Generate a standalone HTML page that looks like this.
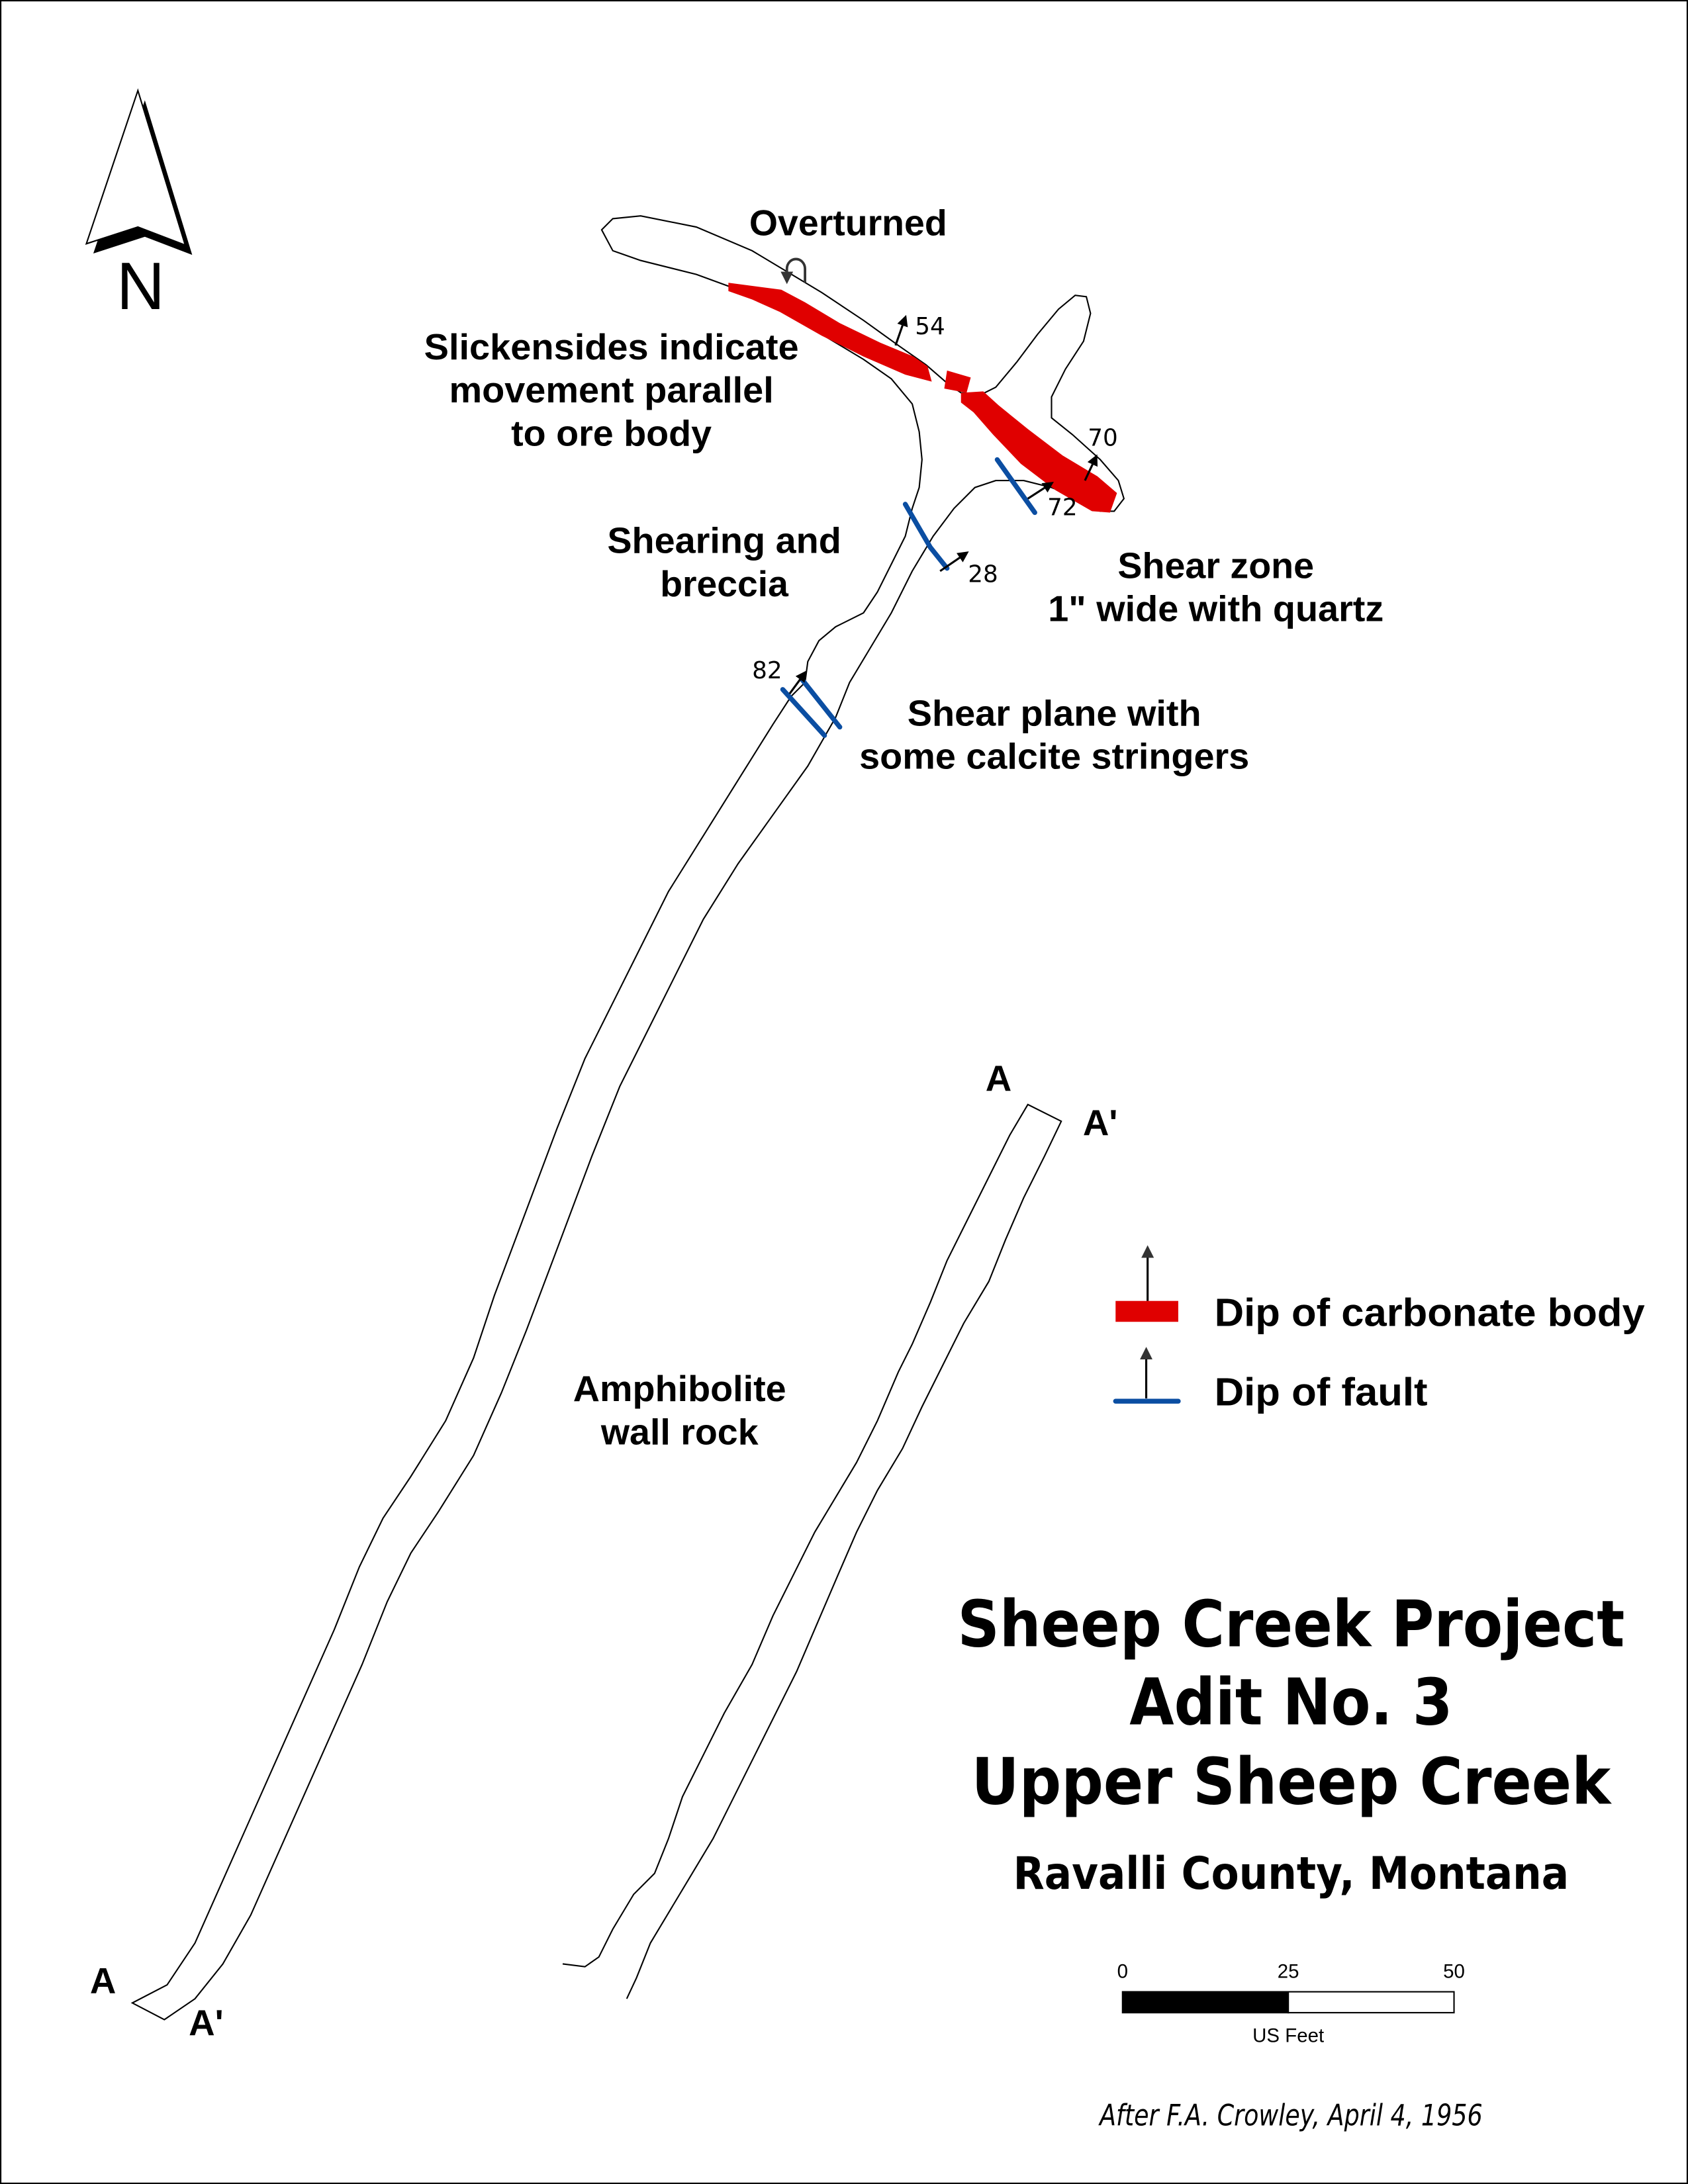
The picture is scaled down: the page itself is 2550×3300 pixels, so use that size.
<!DOCTYPE html>
<html><head><meta charset="utf-8"><style>
html,body{margin:0;padding:0;background:#fff}
svg{display:block}
.l{font-family:"Liberation Sans",Arial,sans-serif;font-weight:bold;font-size:26px;fill:#000}
.n{font-family:"DejaVu Sans","Liberation Sans",sans-serif;font-size:17px;fill:#000}
.t{font-family:"DejaVu Sans","Liberation Sans",sans-serif;font-weight:bold;fill:#000}
</style></head><body>
<svg width="2550" height="3300" viewBox="0 0 1212 1568" preserveAspectRatio="none" xmlns="http://www.w3.org/2000/svg">
<defs><marker id="ar" markerWidth="8" markerHeight="8" refX="6" refY="4" orient="auto" markerUnits="userSpaceOnUse"><path d="M0,0 L8,4 L0,8 z" fill="#000"/></marker>
<marker id="ag" markerWidth="9" markerHeight="9" refX="6" refY="4.5" orient="auto" markerUnits="userSpaceOnUse"><path d="M0,0 L9,4.5 L0,9 z" fill="#333"/></marker></defs>
<rect x="0.5" y="0.5" width="1211" height="1567" fill="#fff" stroke="#000" stroke-width="1"/>
<polygon points="104,72 67,182 104,170 138,183" fill="#000"/>
<polygon points="99,65 62,175 99,163 133,176" fill="#fff" stroke="#000" stroke-width="1"/>
<text x="101" y="222" text-anchor="middle" style="font-family:'Liberation Sans',sans-serif;font-size:48px">N</text>
<path d="M432,165 L440,157 460,155 500,163 540,180 565,195 590,210 620,230 645,248 665,262 680,275 690,282 705,283 715,278 730,260 745,240 760,222 772,212 780,213 783,225 778,245 765,265 755,285 755,300 770,312 790,330 803,345 807,358 800,367 790,367 775,358 755,350 735,345 715,345 700,350 685,365 670,385 655,410 640,440 625,465 610,490 600,515 580,550 555,585 530,620 505,660 485,700 465,740 445,780 425,830 410,870 395,910 378,955 360,1000 340,1045 315,1085 295,1115 278,1150 260,1195 240,1240 220,1285 200,1330 180,1375 160,1410 140,1435 118,1450 95,1438 120,1425 140,1395 160,1350 180,1305 200,1260 220,1215 240,1170 258,1125 275,1090 295,1060 320,1020 340,975 355,930 370,890 385,850 400,810 420,760 440,720 460,680 480,640 505,600 530,560 555,520 568,500 578,490 580,475 588,460 600,450 620,440 630,425 640,405 650,385 655,365 660,350 662,330 660,310 655,290 640,272 620,258 590,240 560,222 530,208 500,197 460,187 440,180 Z" fill="none" stroke="#000" stroke-width="1"/>
<path d="M404,1410 L420,1412 430,1405 440,1385 455,1360 470,1345 480,1320 490,1290 505,1260 520,1230 540,1195 555,1160 570,1130 585,1100 600,1075 615,1050 630,1020 645,985 655,965 668,935 680,905 695,875 710,845 725,815 738,793 762,805 750,830 735,860 722,890 710,920 692,950 677,980 662,1010 648,1040 630,1070 615,1100 602,1130 587,1165 572,1200 557,1230 542,1260 527,1290 512,1320 497,1345 482,1370 467,1395 457,1420 450,1435" fill="none" stroke="#000" stroke-width="1"/>
<polygon points="523,203 561,208 578,217 603,232 632,246 656,256 666,263 669,274 650,269 620,256 590,241 560,224 540,215 523,209" fill="#e00000"/>
<polygon points="680,266 697,271 694,282 678,279" fill="#e00000"/>
<polygon points="690,282 706,281 717,291 738,308 763,327 788,342 802,354 797,368 784,367 758,352 733,333 713,312 699,296 690,289" fill="#e00000"/>
<g stroke="#0b4ea2" stroke-width="3.5" fill="none" stroke-linecap="round">
<line x1="716" y1="330" x2="743" y2="368"/>
<polyline points="650,362 668,393 680,408"/>
<line x1="562" y1="495" x2="592" y2="528"/>
<line x1="576" y1="488" x2="603" y2="522"/>
</g>
<g stroke="#000" stroke-width="1.5" marker-end="url(#ar)">
<line x1="643" y1="248" x2="650" y2="228"/>
<line x1="779" y1="345" x2="787" y2="328"/>
<line x1="738" y1="358" x2="755" y2="347"/>
<line x1="675" y1="410" x2="694" y2="397"/>
<line x1="567" y1="498" x2="578" y2="483"/>
</g>
<path d="M578,203 L578,193 A6.5,7 0 0 0 565,193 L565,201" fill="none" stroke="#333" stroke-width="1.8" marker-end="url(#ag)"/>
<g class="n">
<text x="657" y="240">54</text><text x="781" y="320">70</text><text x="752" y="370">72</text><text x="695" y="418">28</text><text x="540" y="487">82</text>
</g>
<g class="l" text-anchor="middle">
<text x="609" y="169" textLength="142" lengthAdjust="spacingAndGlyphs">Overturned</text>
<text x="439" y="258" textLength="269" lengthAdjust="spacingAndGlyphs">Slickensides indicate</text>
<text x="439" y="289" textLength="233" lengthAdjust="spacingAndGlyphs">movement parallel</text>
<text x="439" y="320" textLength="144" lengthAdjust="spacingAndGlyphs">to ore body</text>
<text x="520" y="397" textLength="168" lengthAdjust="spacingAndGlyphs">Shearing and</text>
<text x="520" y="428" textLength="92" lengthAdjust="spacingAndGlyphs">breccia</text>
<text x="873" y="415" textLength="141" lengthAdjust="spacingAndGlyphs">Shear zone</text>
<text x="873" y="446" textLength="241" lengthAdjust="spacingAndGlyphs">1" wide with quartz</text>
<text x="757" y="521" textLength="211" lengthAdjust="spacingAndGlyphs">Shear plane with</text>
<text x="757" y="552" textLength="280" lengthAdjust="spacingAndGlyphs">some calcite stringers</text>
<text x="488" y="1006" textLength="153" lengthAdjust="spacingAndGlyphs">Amphibolite</text>
<text x="488" y="1037" textLength="113" lengthAdjust="spacingAndGlyphs">wall rock</text>
<text x="717" y="783">A</text><text x="790" y="815">A'</text>
<text x="74" y="1431">A</text><text x="148" y="1461">A'</text>
</g>
<line x1="824" y1="934" x2="824" y2="897" stroke="#000" stroke-width="1.5" marker-end="url(#ag)"/>
<rect x="801" y="934" width="45" height="15" fill="#e00000"/>
<line x1="823" y1="1004" x2="823" y2="970" stroke="#000" stroke-width="1.5" marker-end="url(#ag)"/>
<line x1="801" y1="1006" x2="846" y2="1006" stroke="#0b4ea2" stroke-width="3.5" stroke-linecap="round"/>
<text class="l" x="872" y="952" style="font-size:28px" textLength="309" lengthAdjust="spacingAndGlyphs">Dip of carbonate body</text>
<text class="l" x="872" y="1009" style="font-size:28px" textLength="153" lengthAdjust="spacingAndGlyphs">Dip of fault</text>
<g class="t" text-anchor="middle">
<text x="927" y="1182" style="font-size:46px" textLength="479" lengthAdjust="spacingAndGlyphs">Sheep Creek Project</text>
<text x="927" y="1238" style="font-size:46px" textLength="232" lengthAdjust="spacingAndGlyphs">Adit No. 3</text>
<text x="927" y="1295" style="font-size:46px" textLength="459" lengthAdjust="spacingAndGlyphs">Upper Sheep Creek</text>
<text x="927" y="1356" style="font-size:32px" textLength="399" lengthAdjust="spacingAndGlyphs">Ravalli County, Montana</text>
</g>
<rect x="806" y="1430" width="119" height="15" fill="#000" stroke="#000"/>
<rect x="925" y="1430" width="119" height="15" fill="#fff" stroke="#000"/>
<g style="font-family:'Liberation Sans',sans-serif;font-size:14px" text-anchor="middle">
<text x="806" y="1420">0</text><text x="925" y="1420">25</text><text x="1044" y="1420">50</text>
<text x="925" y="1466">US Feet</text>
</g>
<text x="927" y="1526" text-anchor="middle" style="font-family:'DejaVu Sans','Liberation Sans',sans-serif;font-style:italic;font-size:21px" textLength="275" lengthAdjust="spacingAndGlyphs">After F.A. Crowley, April 4, 1956</text>
</svg>
</body></html>
